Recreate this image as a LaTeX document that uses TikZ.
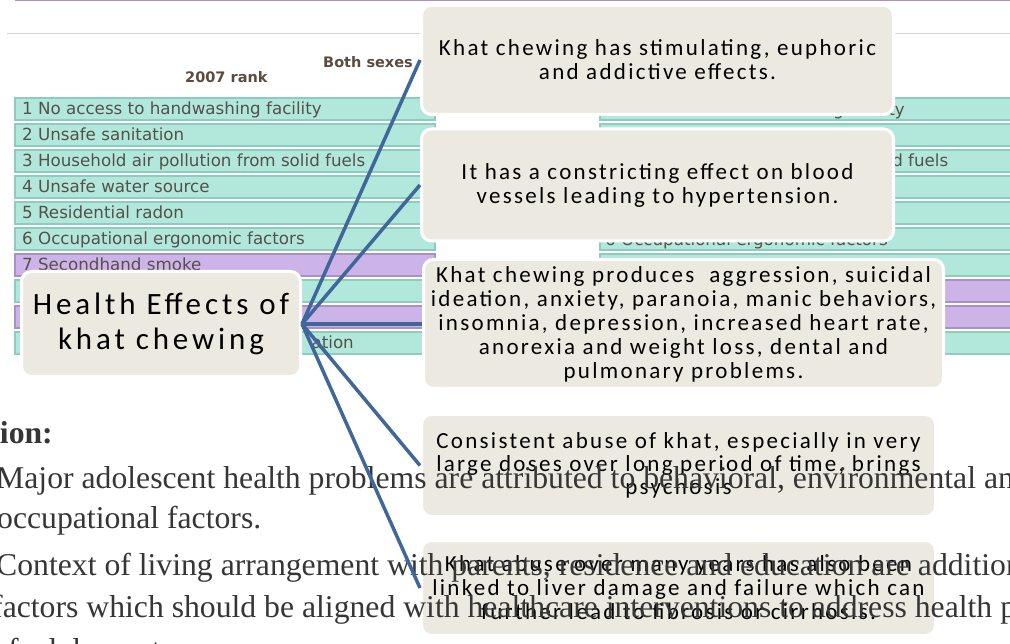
\documentclass[tikz,border=0pt]{standalone}
\usepackage{fontspec}
\setmainfont{Liberation Serif}
\newfontfamily\boxfont{Carlito}[LetterSpace=10]
\newfontfamily\hubfont{Carlito}[LetterSpace=12.5]
\newfontfamily\tabfont{DejaVu Sans}
\definecolor{boxfill}{HTML}{ECEAE0}
\definecolor{linkblue}{HTML}{41679A}
\definecolor{tealfill}{HTML}{B1E8DB}
\definecolor{tealline}{HTML}{8ECDBE}
\definecolor{lilacfill}{HTML}{CDB4E8}
\definecolor{lilacline}{HTML}{A98FCB}
\definecolor{tabtext}{HTML}{55504A}
\definecolor{headtext}{HTML}{5B4B3F}
\definecolor{doctext}{HTML}{363636}
\tikzset{
  effect/.style={draw=white, line width=3pt, fill=boxfill, rounded corners=10pt,
    align=center, inner sep=0pt, text=black, font=\boxfont\fontsize{23}{24}\selectfont},
  link/.style={draw=linkblue, line width=3.5pt},
  rowteal/.style={fill=tealfill, draw=tealline, line width=1.3pt},
  rowlilac/.style={fill=lilacfill, draw=lilacline, line width=1.3pt},
  rowtext/.style={anchor=base west, inner sep=0pt, text=tabtext, font=\tabfont\fontsize{16.7}{18}\selectfont},
  headtext/.style={anchor=base west, inner sep=0pt, text=headtext, font=\tabfont\bfseries\fontsize{14.5}{16}\selectfont},
  doctext/.style={anchor=base west, inner sep=0pt, text=doctext, font=\fontsize{31.7}{36}\selectfont}
}

\begin{document}
\begin{tikzpicture}[x=1pt, y=-1pt]
\useasboundingbox (0,0) rectangle (1010,644);
\clip (0,0) rectangle (1010,644);
\fill[white] (0,0) rectangle (1010,644);

\draw[lilacline, line width=1.5pt] (15,0) -- (1010,0);
\draw[black!17, line width=1pt] (7,34) -- (1010,34);
\node[headtext] (sexes) at (323,68) {Both sexes};
\node[headtext] (rank) at (185,83) {2007 rank};

\draw[rowteal] (15,98) rectangle (435,120);
\draw[rowteal] (15,124) rectangle (435,146);
\draw[rowteal] (15,150) rectangle (435,172);
\draw[rowteal] (15,176) rectangle (435,198);
\draw[rowteal] (15,202) rectangle (435,224);
\draw[rowteal] (15,228) rectangle (435,250);
\draw[rowlilac] (15,254) rectangle (435,276);
\draw[rowteal] (15,280) rectangle (435,302);
\draw[rowlilac] (15,306) rectangle (435,328);
\draw[rowteal] (15,332) rectangle (435,354);
\draw[rowteal] (600,98) rectangle (1012,120);
\draw[rowteal] (600,124) rectangle (1012,146);
\draw[rowteal] (600,150) rectangle (1012,172);
\draw[rowteal] (600,176) rectangle (1012,198);
\draw[rowteal] (600,202) rectangle (1012,224);
\draw[rowteal] (600,228) rectangle (1012,250);
\draw[rowteal] (600,254) rectangle (1012,276);
\draw[rowlilac] (600,280) rectangle (1012,302);
\draw[rowlilac] (600,306) rectangle (1012,328);
\draw[rowteal] (600,332) rectangle (1012,354);

\node[rowtext] (r1) at (22,115) {1 No access to handwashing facility};
\node[rowtext] (r2) at (22,141) {2 Unsafe sanitation};
\node[rowtext] (r3) at (22,167) {3 Household air pollution from solid fuels};
\node[rowtext] (r4) at (22,193) {4 Unsafe water source};
\node[rowtext] (r5) at (22,219) {5 Residential radon};
\node[rowtext] (r6) at (22,245) {6 Occupational ergonomic factors};
\node[rowtext] (r7) at (22,271) {7 Secondhand smoke};
\node[rowtext, anchor=base east] (r10) at (354,349) {ation};
\node[rowtext] (q1) at (605,116) {1 No access to handwashing facility};
\node[rowtext] (q3) at (605,167) {3 Household air pollution from solid fuels};
\node[rowtext] (q6) at (605,246) {6 Occupational ergonomic factors};

\node[effect, font=\hubfont\fontsize{31}{35}\selectfont, minimum width=279pt, minimum height=105pt]
  (health) at (161,324) {Health Effects of\\khat chewing};
\node[effect, minimum width=472pt, minimum height=109pt] (stim) at (657.5,60)
  {Khat chewing has stimulating, euphoric\\and addictive effects.};
\node[effect, minimum width=472pt, minimum height=112pt] (blood) at (657.5,185)
  {It has a constricting effect on blood\\vessels leading to hypertension.};
\node[effect, minimum width=520pt, minimum height=129pt] (mood) at (683.5,324)
  {Khat chewing produces\ \ aggression, suicidal\\ideation, anxiety, paranoia, manic behaviors,\\insomnia, depression, increased heart rate,\\anorexia and weight loss, dental and\\pulmonary problems.};
\node[effect, font=\boxfont\fontsize{23}{23}\selectfont, minimum width=514pt, minimum height=102pt] (psych) at (678.5,465.5)
  {Consistent abuse of khat, especially in very\\large doses over long period of time, brings\\psychosis};
\node[effect, minimum width=514pt, minimum height=95pt] (liver) at (678.5,588)
  {Khat abuse over many years has also been\\linked to liver damage and failure which can\\further lead to fibrosis or cirrhosis.};

\node[doctext, anchor=base east, font=\bfseries\fontsize{31.7}{36}\selectfont] (sion) at (53,443) {sion:};
\node[doctext] (par1) at (-4,488) {Major adolescent health problems are attributed to behavioral, environmental an};
\node[doctext] (par2) at (-3,528) {occupational factors.};
\node[doctext] (par3) at (-4,575) {Context of living arrangement with parents, residence and education are addition};
\node[doctext] (par4) at (-8,617) {factors which should be aligned with healthcare interventions to address health p};
\node[doctext] (par5) at (-8,660) {of adolescents};

\draw[link] (health.east) -- (stim.west);
\draw[link] (health.east) -- (blood.west);
\draw[link] (health.east) -- (mood.west);
\draw[link] (health.east) -- (psych.west);
\draw[link] (health.east) -- (liver.west);
\end{tikzpicture}
\end{document}
